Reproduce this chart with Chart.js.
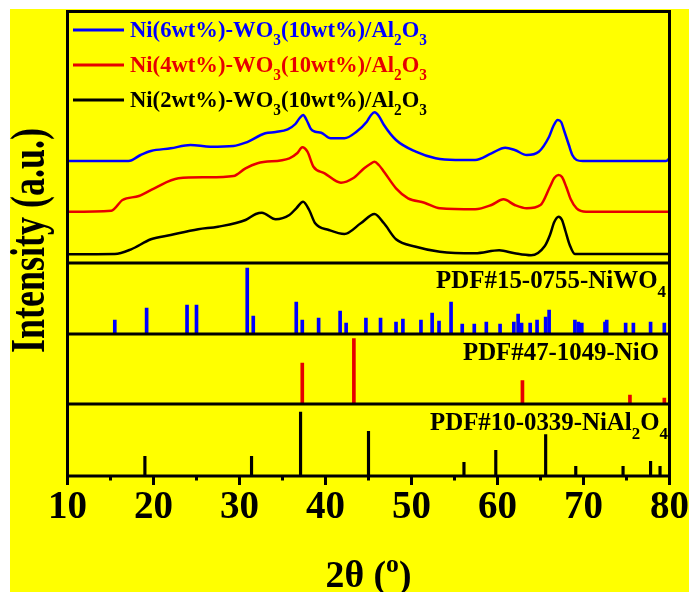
<!DOCTYPE html>
<html>
<head>
<meta charset="utf-8">
<script src="https://cdn.jsdelivr.net/npm/chart.js@4.4.0/dist/chart.umd.min.js"></script>
<style>
  html, body { margin: 0; padding: 0; background: #fff; }
  #wrap { position: absolute; left: 10px; top: 9px; width: 679px; height: 583px; background: #ffff00; }
</style>
</head>
<body>
<div id="wrap"><canvas id="xrd"></canvas></div>
<script>
// Measured patterns (2theta in degrees, intensity in a.u., already offset as in the figure)
const theta6 = [10.0, 17.1, 18.5, 19.7, 22.0, 24.3, 26.6, 29.3, 30.7, 33.0, 34.2, 35.6, 36.5, 37.0, 37.4, 37.8, 38.3, 38.8, 39.5, 40.6, 42.2, 43.6, 44.8, 45.3, 45.7, 46.2, 46.8, 48.2, 50.5, 52.8, 55.1, 57.4, 59.3, 60.9, 62.0, 63.4, 64.8, 66.0, 66.5, 67.0, 67.4, 67.8, 68.3, 68.7, 69.2, 69.9, 79.6, 80.0];
const ni6 = [102, 102, 108, 112, 114.7, 118, 116.3, 117, 120.3, 129.7, 131, 133.7, 139, 145, 148, 143, 134, 131.3, 130.3, 124.7, 124.7, 131.3, 141.3, 148, 150.7, 147, 138, 123, 111.3, 104.7, 103, 103, 109.7, 115.3, 113, 108, 111.3, 126.3, 137, 143, 141, 131, 118, 108, 103, 102, 102, 104.7];

const theta4 = [10.0, 15.1, 16.4, 18.3, 20.1, 22.9, 26.1, 29.3, 30.7, 32.1, 35.8, 36.7, 37.3, 37.9, 38.6, 39.9, 41.8, 43.2, 44.5, 45.2, 45.7, 46.2, 46.8, 48.2, 49.6, 51.5, 53.3, 57.4, 59.3, 60.7, 62.0, 63.4, 65.0, 66.1, 66.6, 67.1, 67.5, 68.0, 68.5, 69.2, 70.3, 80.0];
const ni4 = [51.3, 52.3, 63, 67, 74.7, 84.7, 85.7, 87, 94.7, 99.7, 104.7, 109.7, 115.7, 111.3, 96.3, 89.7, 80.3, 84.7, 94.7, 99, 101.3, 98, 91.3, 74.7, 64.7, 60.3, 54.7, 53.7, 58, 63.7, 58, 54.7, 58, 76.3, 85, 88, 86, 76, 64, 54.7, 51.3, 51.3];

const theta2 = [10.0, 15.5, 17.4, 19.7, 22.0, 25.2, 27.5, 30.7, 31.9, 32.6, 34.2, 35.8, 36.6, 37.4, 38.1, 38.8, 40.4, 42.2, 44.1, 45.7, 46.8, 48.2, 50.5, 53.3, 57.4, 60.2, 62.0, 63.9, 65.5, 66.1, 66.6, 67.1, 67.5, 67.9, 68.4, 69.0, 80.0];
const ni2 = [8.7, 9, 13.7, 23.7, 28, 33.7, 36.3, 43, 49, 50.3, 43.7, 48, 54.7, 61.3, 53, 39.7, 33, 29, 39.7, 49, 39.7, 23.7, 16.3, 11.3, 9.7, 12.7, 9.7, 7.7, 17, 28, 41, 46.3, 43, 32, 18, 9, 9];

// Reference cards (stick positions and relative heights)
const niwo4Pos = [15.5, 19.2, 23.9, 25.0, 30.9, 31.6, 36.6, 37.3, 39.2, 41.7, 42.4, 44.7, 46.4, 48.2, 49.0, 51.1, 52.4, 53.2, 54.6, 55.9, 57.3, 58.7, 60.3, 61.9, 62.4, 62.8, 63.8, 64.6, 65.6, 66.0, 69.0, 69.4, 69.8, 72.5, 72.7, 74.9, 75.8, 77.8, 79.4];
const niwo4Int = [14, 26, 29, 29, 66, 18, 32, 14, 16, 23, 11, 16, 16, 12, 15, 14, 21, 13, 32, 10, 10, 12, 10, 12, 20, 11, 11, 14, 17, 24, 14, 12, 11, 12, 14, 11, 11, 12, 11];

const nioPos = [37.3, 43.3, 62.9, 75.4, 79.4];
const nioInt = [41, 65.5, 23.5, 9, 6];

const nial2o4Pos = [19.0, 31.4, 37.1, 45.0, 56.1, 59.8, 65.6, 69.1, 74.6, 77.8, 78.9];
const nial2o4Int = [19.7, 19.7, 64, 44.7, 13.7, 25.7, 41.3, 9.7, 9.7, 14.7, 9.7];

const xTicks = [10, 20, 30, 40, 50, 60, 70, 80];

const BLUE = 'rgb(0,0,255)';
const RED = 'rgb(230,0,0)';
const BLACK = '#000';
const FONT = "'Liberation Serif', 'Times New Roman', serif";

// legend / card labels as [text, 'sub'|'sup'|''] pieces
const seriesLabels = [
  [['Ni(6wt%)-WO', ''], ['3', 'sub'], ['(10wt%)/Al', ''], ['2', 'sub'], ['O', ''], ['3', 'sub']],
  [['Ni(4wt%)-WO', ''], ['3', 'sub'], ['(10wt%)/Al', ''], ['2', 'sub'], ['O', ''], ['3', 'sub']],
  [['Ni(2wt%)-WO', ''], ['3', 'sub'], ['(10wt%)/Al', ''], ['2', 'sub'], ['O', ''], ['3', 'sub']]
];
const seriesColors = [BLUE, RED, BLACK];
const cardLabels = {
  yW: [['PDF#15-0755-NiWO', ''], ['4', 'sub']],
  yN: [['PDF#47-1049-NiO', '']],
  yA: [['PDF#10-0339-NiAl', ''], ['2', 'sub'], ['O', ''], ['4', 'sub']]
};

const pts = (xs, ys) => xs.map((x, i) => ({x: x, y: ys[i]}));

function drawRich(ctx, parts, x, y, size, color, fit, align) {
  const segs = parts.map(p => {
    const s = p[1] ? size * 0.68 : size;
    ctx.font = 'bold ' + s + 'px ' + FONT;
    return {t: p[0], kind: p[1], s: s, w: ctx.measureText(p[0]).width};
  });
  const natural = segs.reduce((a, g) => a + g.w, 0);
  const k = fit ? fit / natural : 1;
  const total = natural * k;
  const x0 = align === 'right' ? x - total : align === 'center' ? x - total / 2 : x;
  ctx.save();
  ctx.translate(x0, y);
  ctx.scale(k, 1);
  ctx.fillStyle = color;
  ctx.textAlign = 'left';
  ctx.textBaseline = 'alphabetic';
  let cx = 0;
  segs.forEach(g => {
    ctx.font = 'bold ' + g.s + 'px ' + FONT;
    const dy = g.kind === 'sub' ? size * 0.34 : g.kind === 'sup' ? -size * 0.38 : 0;
    ctx.fillText(g.t, cx, dy);
    cx += g.w;
  });
  ctx.restore();
}

const decor = {
  id: 'decor',
  afterDatasetsDraw(chart) {
    const {ctx, chartArea: a, scales} = chart;
    ctx.save();
    ctx.strokeStyle = BLACK;
    ctx.lineWidth = 3;
    ctx.strokeRect(a.left, a.top, a.right - a.left, a.bottom - a.top);
    ctx.beginPath();
    ['yW', 'yN', 'yA'].forEach(id => {
      const t = scales[id].top;
      ctx.moveTo(a.left, t);
      ctx.lineTo(a.right, t);
    });
    // minor ticks
    for (let v = 15; v < 80; v += 10) {
      const px = scales.x.getPixelForValue(v);
      ctx.moveTo(px, a.bottom);
      ctx.lineTo(px, a.bottom + 4.5);
    }
    ctx.stroke();
    ctx.restore();
  },
  afterDraw(chart) {
    const {ctx, chartArea: a, scales} = chart;
    // legend
    seriesLabels.forEach((parts, i) => {
      const ly = a.top + 18.5 + i * 35;
      ctx.save();
      ctx.strokeStyle = seriesColors[i];
      ctx.lineWidth = 3;
      ctx.beginPath();
      ctx.moveTo(a.left + 5.5, ly);
      ctx.lineTo(a.left + 56.5, ly);
      ctx.stroke();
      ctx.restore();
      drawRich(ctx, parts, a.left + 62.5, ly + 7, 24, seriesColors[i], 297, 'left');
    });
    // card labels
    drawRich(ctx, cardLabels.yW, a.right - 3.5, scales.yW.top + 25, 25, BLACK, 230, 'right');
    drawRich(ctx, cardLabels.yN, a.right - 10.5, scales.yN.top + 26, 25, BLACK, 196, 'right');
    drawRich(ctx, cardLabels.yA, a.right - 1.5, scales.yA.top + 26, 25, BLACK, 238, 'right');
    // x title
    drawRich(ctx, [['2\u03b8 (', ''], ['o', 'sup'], [')', '']], (a.left + a.right) / 2, 577.5, 38, BLACK, 86, 'center');
    // y title
    ctx.save();
    ctx.translate(34, 231.5);
    ctx.rotate(-Math.PI / 2);
    drawRich(ctx, [['Intensity (a.u.)', '']], 0, 0, 48, BLACK, 225, 'center');
    ctx.restore();
  }
};

const lineDs = (label, xs, ys, color) => ({
  type: 'line', label: label, data: pts(xs, ys), yAxisID: 'yP',
  borderColor: color, borderWidth: 2.5, pointRadius: 0,
  cubicInterpolationMode: 'monotone', fill: false
});
const stickDs = (label, xs, ys, color, axis, w) => ({
  type: 'bar', label: label, data: pts(xs, ys), yAxisID: axis,
  backgroundColor: color, borderWidth: 0, barThickness: w, grouped: false
});

const panelAxis = (weight, max) => ({
  type: 'linear', display: false, stack: 'panels', stackWeight: weight,
  min: 0, max: max, offset: false
});

new Chart(document.getElementById('xrd'), {
  type: 'line',
  data: {
    datasets: [
      lineDs('Ni(6wt%)', theta6, ni6, BLUE),
      lineDs('Ni(4wt%)', theta4, ni4, RED),
      lineDs('Ni(2wt%)', theta2, ni2, BLACK),
      stickDs('NiWO4', niwo4Pos, niwo4Int, BLUE, 'yW', 3),
      stickDs('NiO', nioPos, nioInt, RED, 'yN', 3),
      stickDs('NiAl2O4', nial2o4Pos, nial2o4Int, BLACK, 'yA', 2.5)
    ]
  },
  options: {
    responsive: true,
    maintainAspectRatio: false,
    animation: false,
    layout: { padding: { left: 57.5, right: 19.5, top: 2.5, bottom: 0 } },
    plugins: { legend: { display: false }, tooltip: { enabled: false } },
    scales: {
      x: {
        type: 'linear', min: 10, max: 80, offset: false,
        afterBuildTicks: s => { s.ticks = xTicks.map(v => ({value: v})); },
        afterFit: s => { s.height = 116; },
        ticks: { color: BLACK, maxRotation: 0, padding: 0, font: { family: FONT, size: 39, weight: 'bold' } },
        grid: { display: true, drawOnChartArea: false, drawTicks: true, tickLength: 9, tickWidth: 3, tickColor: BLACK, offset: false },
        border: { display: false }
      },
      yA: panelAxis(72, 72),
      yN: panelAxis(70, 70),
      yW: panelAxis(71, 71),
      yP: panelAxis(251.5, 251.5)
    }
  },
  plugins: [decor]
});
</script>
</body>
</html>
